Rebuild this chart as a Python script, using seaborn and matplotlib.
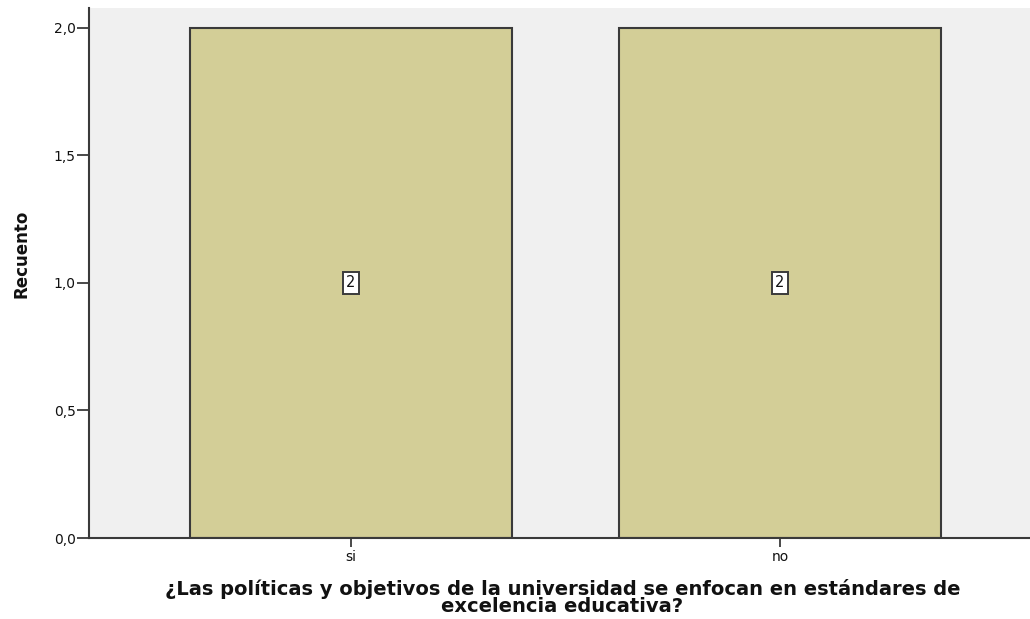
import pandas as pd
import seaborn as sns
import matplotlib.pyplot as plt
from matplotlib.ticker import FuncFormatter

# values
categories = ['si', 'no']
counts = [2, 2]
y_ticks = [0.0, 0.5, 1.0, 1.5, 2.0]

df = pd.DataFrame({'respuesta': categories, 'recuento': counts})

sns.set_style('white')
plt.rcParams['font.family'] = ['DejaVu Sans']

fig = plt.figure(figsize=(10.3, 6.19), dpi=100)
ax = fig.add_axes([89 / 1030, 81 / 619, 1 - 89 / 1030, 530 / 619])
ax.set_facecolor('#f0f0f0')

sns.barplot(data=df, x='respuesta', y='recuento', order=categories,
            color='#d3ce97', edgecolor='#3a3a3a', linewidth=1.5,
            width=0.75, saturation=1, ax=ax)

# count labels in small boxes at the middle of each bar
for i, c in enumerate(counts):
    ax.text(i, c / 2, str(c), ha='center', va='center', fontsize=10.5, color='#111111',
            bbox=dict(boxstyle='square,pad=0.25', fc='white', ec='#3a3a3a', lw=1.4))

ax.set_xlim(-0.611, 1.583)
ax.set_ylim(0, 2.078)
ax.set_yticks(y_ticks)
ax.yaxis.set_major_formatter(FuncFormatter(lambda v, p: f'{v:.1f}'.replace('.', ',')))

for side in ['top', 'right']:
    ax.spines[side].set_visible(False)
for side in ['left', 'bottom']:
    ax.spines[side].set_color('#3a3a3a')
    ax.spines[side].set_linewidth(1.5)

ax.tick_params(axis='y', direction='out', length=8.5, width=1.3, color='#3a3a3a',
               labelsize=10, labelcolor='#111111', left=True, pad=1)
ax.tick_params(axis='x', direction='out', length=6.5, width=1.3, color='#3a3a3a',
               labelsize=10, labelcolor='#111111', bottom=True, pad=2)

ax.set_ylabel('Recuento', fontsize=12, fontweight='bold', color='#111111')
ax.yaxis.set_label_coords(-0.062, 0.536)
ax.set_xlabel('¿Las políticas y objetivos de la universidad se enfocan en estándares de\nexcelencia educativa?',
              fontsize=14, fontweight='bold', color='#111111', linespacing=0.88)
ax.xaxis.set_label_coords(0.503, -0.077)
ax.xaxis.label.set_va('top')

fig.savefig('out.png', dpi=100)
